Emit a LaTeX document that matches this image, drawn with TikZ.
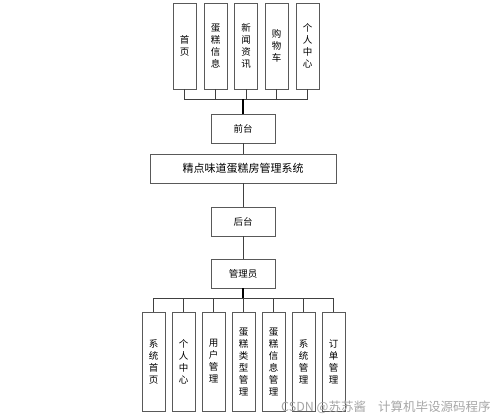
\documentclass[tikz,border=0pt]{standalone}
\usepackage{fontspec}
\newfontfamily\cjk{Noto Sans CJK SC}
\tikzset{
  box/.style={draw=black!65,line width=0.8pt,fill=white,inner sep=0pt,font=\cjk\fontsize{9.5}{12}\selectfont},
  vbox/.style={box,minimum width=23pt,align=center},
  hbox/.style={box,minimum height=29pt,minimum width=64pt},
  link/.style={draw=black!75,line width=0.8pt},
}
\begin{document}
\begin{tikzpicture}[x=1pt,y=-1pt]
  \useasboundingbox (0,0) rectangle (499,420);
  % front part
  \foreach \i/\x/\t in {1/184.5/首\\页, 2/215.5/蛋\\糕\\信\\息, 3/246/新\\闻\\资\\讯, 4/276.5/购\\物\\车, 5/307.5/个\\人\\中\\心}
    \node[vbox,minimum height=86pt] (top\i) at (\x,46) {\t};
  \node[hbox] (qiantai) at (243,128.5) {前台};
  \node[box,minimum width=186pt,minimum height=29pt,font=\cjk\fontsize{11}{13}\selectfont] (sys) at (243,168.5) {精点味道蛋糕房管理系统};
  \node[hbox] (houtai) at (243,221.5) {后台};
  \node[hbox] (admin) at (243,273.5) {管理员};
  % back part
  \foreach \i/\t in {1/系\\统\\首\\页, 2/个\\人\\中\\心, 3/用\\户\\管\\理, 4/蛋\\糕\\类\\型\\管\\理, 5/蛋\\糕\\信\\息\\管\\理, 6/系\\统\\管\\理, 7/订\\单\\管\\理}
    \node[vbox,minimum height=99pt] (bot\i) at (123.5+30*\i,361.5) {\t};
  \coordinate (topbus) at (243,99);
  \coordinate (botbus) at (243,298);
  \foreach \i in {1,...,5}
    \draw[link] (top\i.south) |- (topbus);
  \draw[link,line width=1.2pt,draw=black] (topbus) -- (qiantai.north);
  \draw[link] (qiantai) -- (sys);
  \draw[link] (sys) -- (houtai);
  \draw[link] (houtai) -- (admin);
  \draw[link,line width=1.2pt,draw=black] (admin.south) -- (botbus);
  \foreach \i in {1,...,7}
    \draw[link] (botbus) -| (bot\i.north);
  % watermark
  \node[text=black!35,font=\cjk\fontsize{12.5}{14}\selectfont,anchor=west,inner sep=0pt] (mark) at (281,407) {CSDN @苏苏酱\hspace{12pt}计算机毕设源码程序};
\end{tikzpicture}
\end{document}
